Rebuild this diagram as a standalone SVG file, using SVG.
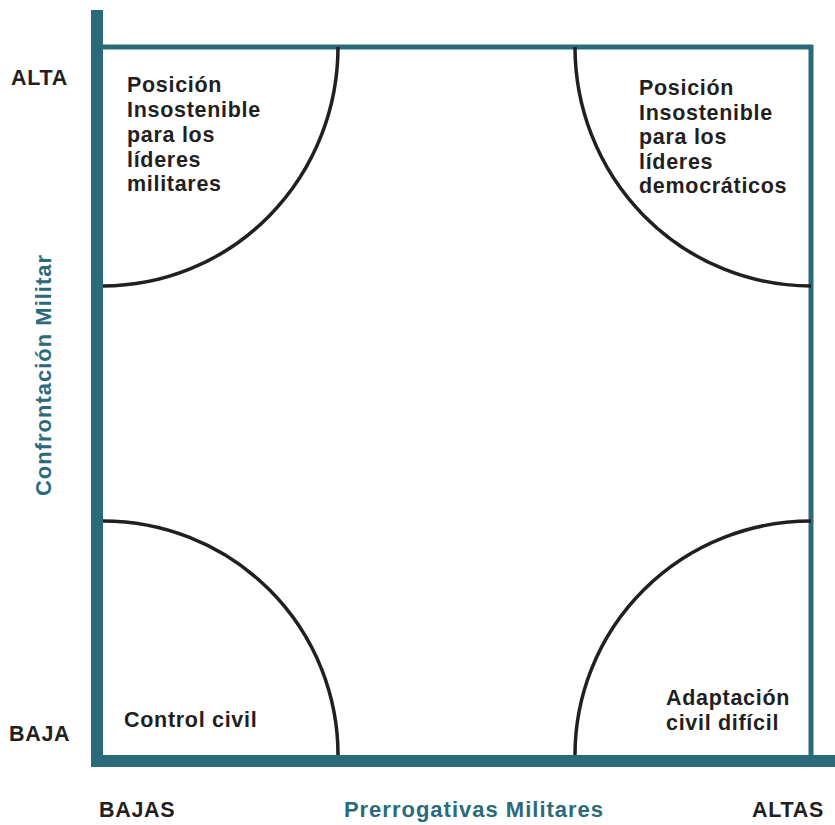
<svg xmlns="http://www.w3.org/2000/svg" width="835" height="825" viewBox="0 0 835 825">
<style>
.axis{fill:#2b6a7b}
.frame{stroke:#2b6a7b;stroke-width:5;fill:none}
.arc{stroke:#231f20;stroke-width:3.5;fill:none}
.t{font-family:"Liberation Sans",Arial,sans-serif;font-weight:bold;font-size:21.5px;letter-spacing:0.7px;fill:#231f20}
.ax{font-family:"Liberation Sans",Arial,sans-serif;font-weight:bold;font-size:22px;letter-spacing:1px;fill:#2b6a7b}
</style>
<rect width="835" height="825" fill="#ffffff"/>
<g id="frame">
<line class="frame" x1="103" y1="47" x2="813" y2="47"/>
<line class="frame" x1="811" y1="45" x2="811" y2="756"/>
<rect class="axis" x="91" y="10" width="12" height="757"/>
<rect class="axis" x="91" y="755" width="744" height="12"/>
</g>
<g id="connectors">
<path class="arc" d="M338,47 A235,239 0 0 1 103,286"/>
<path class="arc" d="M575,47 A236,239 0 0 0 811,286"/>
<path class="arc" d="M103,521 A235,234 0 0 1 338,755"/>
<path class="arc" d="M575,755 A236,234 0 0 1 811,521"/>
</g>
<g id="q-top-left">
<text class="t"><tspan x="127" y="92">Posición</tspan><tspan x="127" y="117">Insostenible</tspan><tspan x="127" y="141.5">para los</tspan><tspan x="127" y="166.5">líderes</tspan><tspan x="127" y="191">militares</tspan></text>
</g>
<g id="q-top-right">
<text class="t"><tspan x="639" y="95">Posición</tspan><tspan x="639" y="119.5">Insostenible</tspan><tspan x="639" y="144">para los</tspan><tspan x="639" y="168.5">líderes</tspan><tspan x="639" y="193">democráticos</tspan></text>
</g>
<g id="q-bottom-left">
<text class="t" x="124" y="727">Control civil</text>
</g>
<g id="q-bottom-right">
<text class="t"><tspan x="666" y="705">Adaptación</tspan><tspan x="666" y="730">civil difícil</tspan></text>
</g>
<g id="labels">
<text class="t" x="11" y="85">ALTA</text>
<text class="t" x="9" y="741">BAJA</text>
<text class="t" x="99" y="817">BAJAS</text>
<text class="t" x="752" y="817">ALTAS</text>
<text class="ax" x="474" y="817" text-anchor="middle">Prerrogativas Militares</text>
<text class="ax" transform="translate(51,375) rotate(-90)" text-anchor="middle">Confrontación Militar</text>
</g>
</svg>
